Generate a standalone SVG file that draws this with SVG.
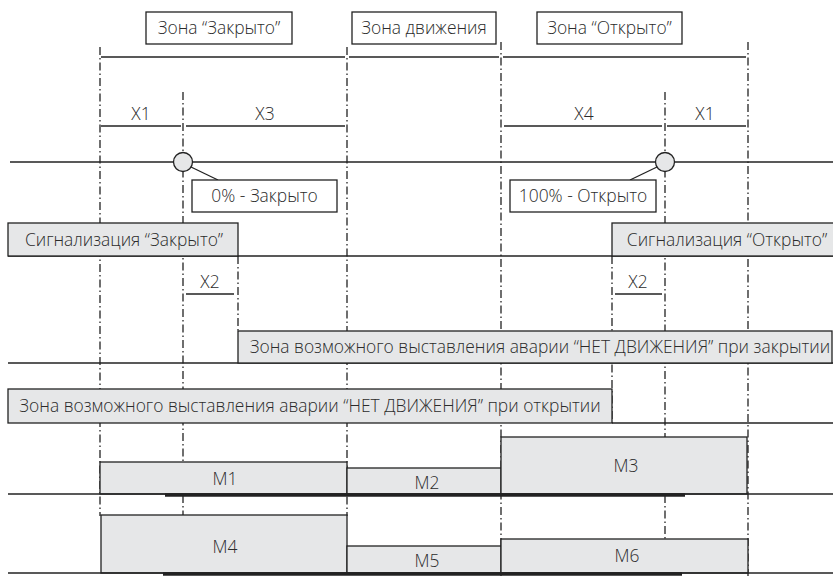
<svg xmlns="http://www.w3.org/2000/svg" width="833" height="576" viewBox="0 0 833 576">
<style>
text{font-family:"Open Sans","Noto Sans","DejaVu Sans",sans-serif;font-size:17.4px;font-weight:300;fill:#2b2b2b;text-anchor:middle}
.ln{stroke:#222;stroke-width:1.3;fill:none}
.dd{stroke:#222;stroke-width:1.3;fill:none;stroke-dasharray:8 3 1.5 3}
.box{fill:#fff;stroke:#222;stroke-width:1.3}
.gb{fill:#e6e7e8;stroke:#222;stroke-width:1.3}
.thick{stroke:#222;stroke-width:3.5}
</style>
<rect width="833" height="576" fill="#fff"/>
<g id="guides">
<line class="dd" x1="100" y1="47" x2="100" y2="516"/>
<line class="dd" x1="183" y1="92" x2="183" y2="515"/>
<line class="dd" x1="347" y1="47" x2="347" y2="516"/>
<line class="dd" x1="501" y1="42" x2="501" y2="576"/>
<line class="dd" x1="665" y1="92" x2="665" y2="539"/>
<line class="dd" x1="748" y1="42" x2="748" y2="576"/>
<line class="dd" x1="238" y1="256" x2="238" y2="331"/>
<line class="dd" x1="612" y1="256" x2="612" y2="423"/>
</g>
<g id="connectors">
<line class="ln" x1="101" y1="57" x2="345" y2="57"/>
<line class="ln" x1="349" y1="57" x2="499" y2="57"/>
<line class="ln" x1="503" y1="57" x2="746" y2="57"/>
<line class="ln" x1="101" y1="126" x2="181" y2="126"/>
<line class="ln" x1="186" y1="126" x2="345" y2="126"/>
<line class="ln" x1="504" y1="126" x2="662" y2="126"/>
<line class="ln" x1="667" y1="126" x2="746" y2="126"/>
<line class="ln" x1="10" y1="162" x2="833" y2="162"/>
<line class="ln" x1="191" y1="167" x2="218" y2="180"/>
<line class="ln" x1="657" y1="167" x2="630" y2="180"/>
<line class="ln" x1="8" y1="256" x2="833" y2="256"/>
<line class="ln" x1="186" y1="294" x2="234" y2="294"/>
<line class="ln" x1="615" y1="294" x2="662" y2="294"/>
<line class="ln" x1="8" y1="363" x2="833" y2="363"/>
<line class="ln" x1="612" y1="423" x2="833" y2="423"/>
</g>
<g id="zone-closed"><rect class="box" x="146" y="12" width="146" height="32"/><text x="219" y="34">Зона “Закрыто”</text></g>
<g id="zone-move"><rect class="box" x="352" y="12" width="144" height="32"/><text x="424" y="34">Зона движения</text></g>
<g id="zone-open"><rect class="box" x="537" y="12" width="145" height="32"/><text x="609.500" y="34">Зона “Открыто”</text></g>
<g id="lbl-x1a"><text x="141" y="120">X1</text></g>
<g id="lbl-x3"><text x="265" y="120">X3</text></g>
<g id="lbl-x4"><text x="584" y="120">X4</text></g>
<g id="lbl-x1b"><text x="705" y="120">X1</text></g>
<g id="pt-0"><circle cx="183" cy="162" r="9.500" class="gb"/></g>
<g id="pt-100"><circle cx="665" cy="162" r="9.500" class="gb"/></g>
<g id="box-0"><rect class="box" x="192" y="180" width="145" height="32"/><text x="264.500" y="202">0% - Закрыто</text></g>
<g id="box-100"><rect class="box" x="510" y="180" width="146" height="32"/><text x="583" y="202">100% - Открыто</text></g>
<g id="sig-closed"><rect class="gb" x="8" y="223" width="230" height="33"/><text x="124" y="246">Сигнализация “Закрыто”</text></g>
<g id="sig-open"><rect class="gb" x="612" y="223" width="222" height="33"/><text x="727" y="246">Сигнализация “Открыто”</text></g>
<g id="lbl-x2a"><text x="210" y="288">X2</text></g>
<g id="lbl-x2b"><text x="638" y="288">X2</text></g>
<g id="zone-alarm-close"><rect class="gb" x="238" y="331" width="594" height="32"/><text x="540" y="353">Зона возможного выставления аварии “НЕТ ДВИЖЕНИЯ” при закрытии</text></g>
<g id="zone-alarm-open"><rect class="gb" x="8" y="389" width="604" height="34"/><text x="310" y="412">Зона возможного выставления аварии “НЕТ ДВИЖЕНИЯ” при открытии</text></g>
<g id="m1"><rect class="gb" x="100" y="462" width="247" height="32"/><text x="225" y="485">M1</text></g>
<g id="m2"><rect class="gb" x="347" y="468" width="154" height="26"/><text x="427" y="489">M2</text></g>
<g id="m3"><rect class="gb" x="501" y="437" width="246" height="57"/><text x="626" y="472">M3</text></g>
<g id="row1-line"><line class="ln" x1="8" y1="494" x2="833" y2="494"/><line class="thick" x1="165" y1="495" x2="685" y2="495"/></g>
<g id="m4"><rect class="gb" x="101" y="515" width="246" height="58"/><text x="225" y="553">M4</text></g>
<g id="m5"><rect class="gb" x="347" y="546" width="154" height="27"/><text x="427" y="567">M5</text></g>
<g id="m6"><rect class="gb" x="501" y="539" width="247" height="34"/><text x="627" y="562">M6</text></g>
<g id="row2-line"><line class="ln" x1="8" y1="573" x2="833" y2="573"/><line class="thick" x1="163" y1="574" x2="682" y2="574"/></g>
</svg>
